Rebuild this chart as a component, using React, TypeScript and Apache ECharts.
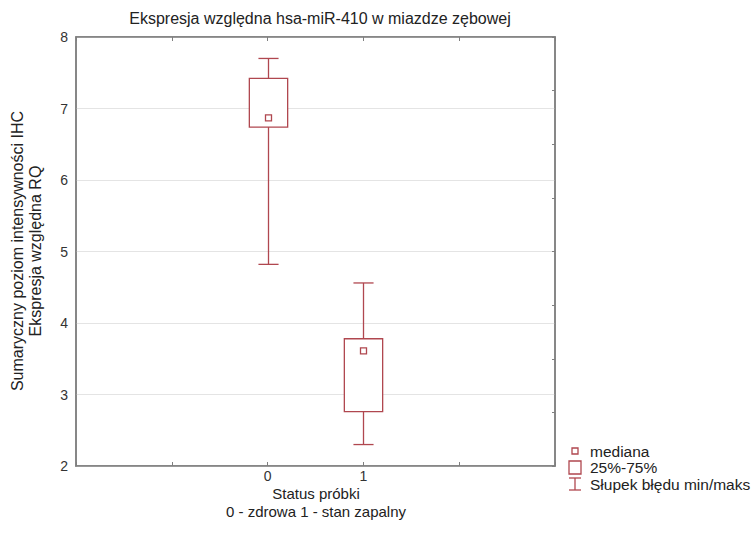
import React, { useEffect, useRef } from "react";
import * as echarts from "echarts";

const categories = [0, 1];
const minValues = [4.82, 2.3];
const q1Values = [6.74, 2.76];
const medianValues = [6.87, 3.61];
const q3Values = [7.42, 3.78];
const maxValues = [7.7, 4.56];
const xTickLabels = ["0", "1"];

const RED = "#b0474f";
const FRAME = "#7f7f7f";
const FONT = "Liberation Sans, Arial, sans-serif";

export default function App() {
  const ref = useRef<HTMLDivElement>(null);
  useEffect(() => {
    document.body.style.margin = "0";
    if (!ref.current) return;
    const chart = echarts.init(ref.current, null, { renderer: "svg" });
    const data = categories.map((c, i) => [c, minValues[i], q1Values[i], medianValues[i], q3Values[i], maxValues[i]]);
    chart.setOption({
      animation: false,
      textStyle: { fontFamily: FONT },
      title: {
        text: "Ekspresja względna hsa-miR-410 w miazdze zębowej",
        left: 315,
        textAlign: "center",
        top: 5,
        textStyle: { fontSize: 16, fontWeight: "normal", color: "#222", fontFamily: FONT },
      },
      grid: { left: 76, top: 37, width: 479, height: 429, show: true, borderColor: FRAME, borderWidth: 1.5 },
      xAxis: [
        {
          type: "value",
          min: -2,
          max: 3,
          interval: 1,
          position: "bottom",
          axisLine: { show: true, onZero: false, lineStyle: { color: FRAME, width: 1.5 } },
          axisTick: { show: true, inside: true, length: 4, lineStyle: { color: FRAME } },
          splitLine: { show: false },
          axisLabel: {
            color: "#333",
            fontSize: 14,
            margin: 3,
            formatter: (v: number) => (xTickLabels.includes(String(v)) ? String(v) : ""),
          },
        },
        {
          type: "value",
          min: -2,
          max: 3,
          interval: 1,
          position: "top",
          axisLine: { show: true, onZero: false, lineStyle: { color: FRAME, width: 1.5 } },
          axisTick: { show: true, inside: true, length: 4, lineStyle: { color: FRAME } },
          splitLine: { show: false },
          axisLabel: { show: false },
        },
      ],
      yAxis: [
        {
          type: "value",
          min: 2,
          max: 8,
          interval: 1,
          position: "left",
          axisLine: { show: true, onZero: false, lineStyle: { color: FRAME, width: 1.5 } },
          axisTick: { show: false },
          splitLine: { show: true, lineStyle: { color: "#e4e4e4", width: 1.2 } },
          axisLabel: { color: "#333", fontSize: 14, margin: 8 },
        },
        {
          type: "value",
          min: 0,
          max: 8,
          interval: 1,
          position: "right",
          axisLine: { show: true, onZero: false, lineStyle: { color: FRAME, width: 1.5 } },
          axisTick: { show: true, inside: true, length: 3, lineStyle: { color: FRAME } },
          splitLine: { show: false },
          axisLabel: { show: false },
        },
      ],
      series: [
        {
          type: "custom",
          xAxisIndex: 0,
          yAxisIndex: 0,
          data,
          renderItem: (params: any, api: any) => {
            const x = api.value(0);
            const pMin = api.coord([x, api.value(1)]);
            const pQ1 = api.coord([x, api.value(2)]);
            const pMed = api.coord([x, api.value(3)]);
            const pQ3 = api.coord([x, api.value(4)]);
            const pMax = api.coord([x, api.value(5)]);
            const halfBox = api.size([0.4, 0])[0] / 2;
            const halfCap = api.size([0.21, 0])[0] / 2;
            const cx = Math.round(pQ1[0]) + 0.5;
            const ls = { stroke: RED, lineWidth: 1.3, fill: null };
            return {
              type: "group",
              children: [
                { type: "line", shape: { x1: cx, y1: pMax[1], x2: cx, y2: pQ3[1] }, style: ls },
                { type: "line", shape: { x1: cx, y1: pMin[1], x2: cx, y2: pQ1[1] }, style: ls },
                { type: "line", shape: { x1: cx - halfCap, y1: pMax[1], x2: cx + halfCap, y2: pMax[1] }, style: ls },
                { type: "line", shape: { x1: cx - halfCap, y1: pMin[1], x2: cx + halfCap, y2: pMin[1] }, style: ls },
                {
                  type: "rect",
                  shape: { x: cx - halfBox, y: pQ3[1], width: halfBox * 2, height: pQ1[1] - pQ3[1] },
                  style: { stroke: RED, lineWidth: 1.3, fill: "#fff" },
                },
                {
                  type: "rect",
                  shape: { x: cx - 3, y: pMed[1] - 3, width: 6, height: 6 },
                  style: { stroke: RED, lineWidth: 1.3, fill: "#fff" },
                },
              ],
            };
          },
        },
      ],
      graphic: [
        {
          type: "text",
          x: 8,
          y: 251,
          rotation: Math.PI / 2,
          style: {
            text: "Sumaryczny poziom intensywności IHC\nEkspresja względna RQ",
            textAlign: "center",
            textVerticalAlign: "top",
            fontSize: 16,
            lineHeight: 18,
            fill: "#222",
            fontFamily: FONT,
          },
        },
        {
          type: "text",
          x: 316,
          y: 484,
          style: {
            text: "Status próbki\n0 - zdrowa 1 - stan zapalny",
            textAlign: "center",
            fontSize: 15,
            lineHeight: 18,
            fill: "#222",
            fontFamily: FONT,
          },
        },
        { type: "rect", shape: { x: 572, y: 448, width: 6, height: 6 }, style: { stroke: RED, lineWidth: 1.3, fill: "#fff" } },
        { type: "rect", shape: { x: 569, y: 461, width: 12, height: 13 }, style: { stroke: RED, lineWidth: 1.3, fill: "#fff" } },
        { type: "line", shape: { x1: 575, y1: 478, x2: 575, y2: 490 }, style: { stroke: RED, lineWidth: 1.3 } },
        { type: "line", shape: { x1: 569, y1: 478, x2: 581, y2: 478 }, style: { stroke: RED, lineWidth: 1.3 } },
        { type: "line", shape: { x1: 569, y1: 490, x2: 581, y2: 490 }, style: { stroke: RED, lineWidth: 1.3 } },
        { type: "text", x: 590, y: 451, style: { text: "mediana", fontSize: 15.5, fill: "#222", textVerticalAlign: "middle", fontFamily: FONT } },
        { type: "text", x: 590, y: 467, style: { text: "25%-75%", fontSize: 15.5, fill: "#222", textVerticalAlign: "middle", fontFamily: FONT } },
        { type: "text", x: 590, y: 484, style: { text: "Słupek błędu min/maks", fontSize: 15.5, fill: "#222", textVerticalAlign: "middle", fontFamily: FONT } },
      ],
    });
    return () => chart.dispose();
  }, []);
  return <div ref={ref} style={{ width: 754, height: 538 }} />;
}
